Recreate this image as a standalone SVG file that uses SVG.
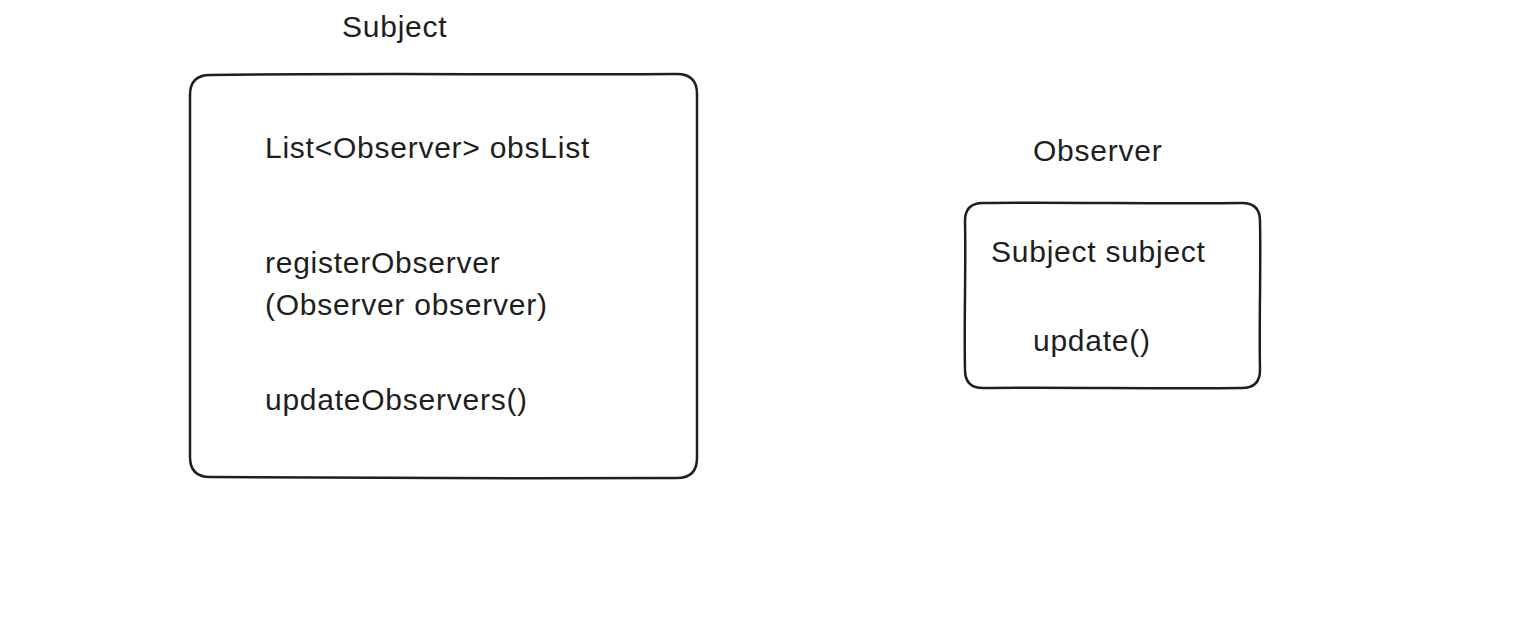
<svg xmlns="http://www.w3.org/2000/svg" width="1518" height="626" viewBox="0 0 1518 626">
<style>
.box{fill:none;stroke:#1e1e1e;stroke-width:2.5;stroke-linejoin:round}
.t{font-family:"Liberation Sans",Arial,Helvetica,sans-serif;font-size:30px;fill:#1e1e1e;letter-spacing:0.75px}
</style>
<rect width="1518" height="626" fill="#ffffff"/>
<g id="subject">
<text class="t" x="342" y="37">Subject</text>
<path class="box" d="M210,75 C350,73 520,75 677,74 Q697,74 697,94 C698,220 696,340 697,458 Q697,478 677,478 C520,479 350,477 210,477 Q190,477 190,457 C189,340 190,220 190,95 Q190,75 210,75 Z"/>
<text class="t" x="265" y="158">List&lt;Observer&gt; obsList</text>
<text class="t" x="265" y="273">registerObserver</text>
<text class="t" x="265" y="315">(Observer observer)</text>
<text class="t" x="265" y="410">updateObservers()</text>
</g>
<g id="observer">
<text class="t" x="1033" y="161">Observer</text>
<path class="box" d="M983,203 C1060,202 1160,204 1242,203 Q1260,203 1260,221 C1261,270 1259,320 1260,370 Q1260,388 1242,388 C1160,389 1060,387 983,388 Q965,388 965,370 C964,320 966,270 965,221 Q965,203 983,203 Z"/>
<text class="t" x="991" y="262">Subject subject</text>
<text class="t" x="1033" y="351">update()</text>
</g>
<g id="connectors"></g>
</svg>
